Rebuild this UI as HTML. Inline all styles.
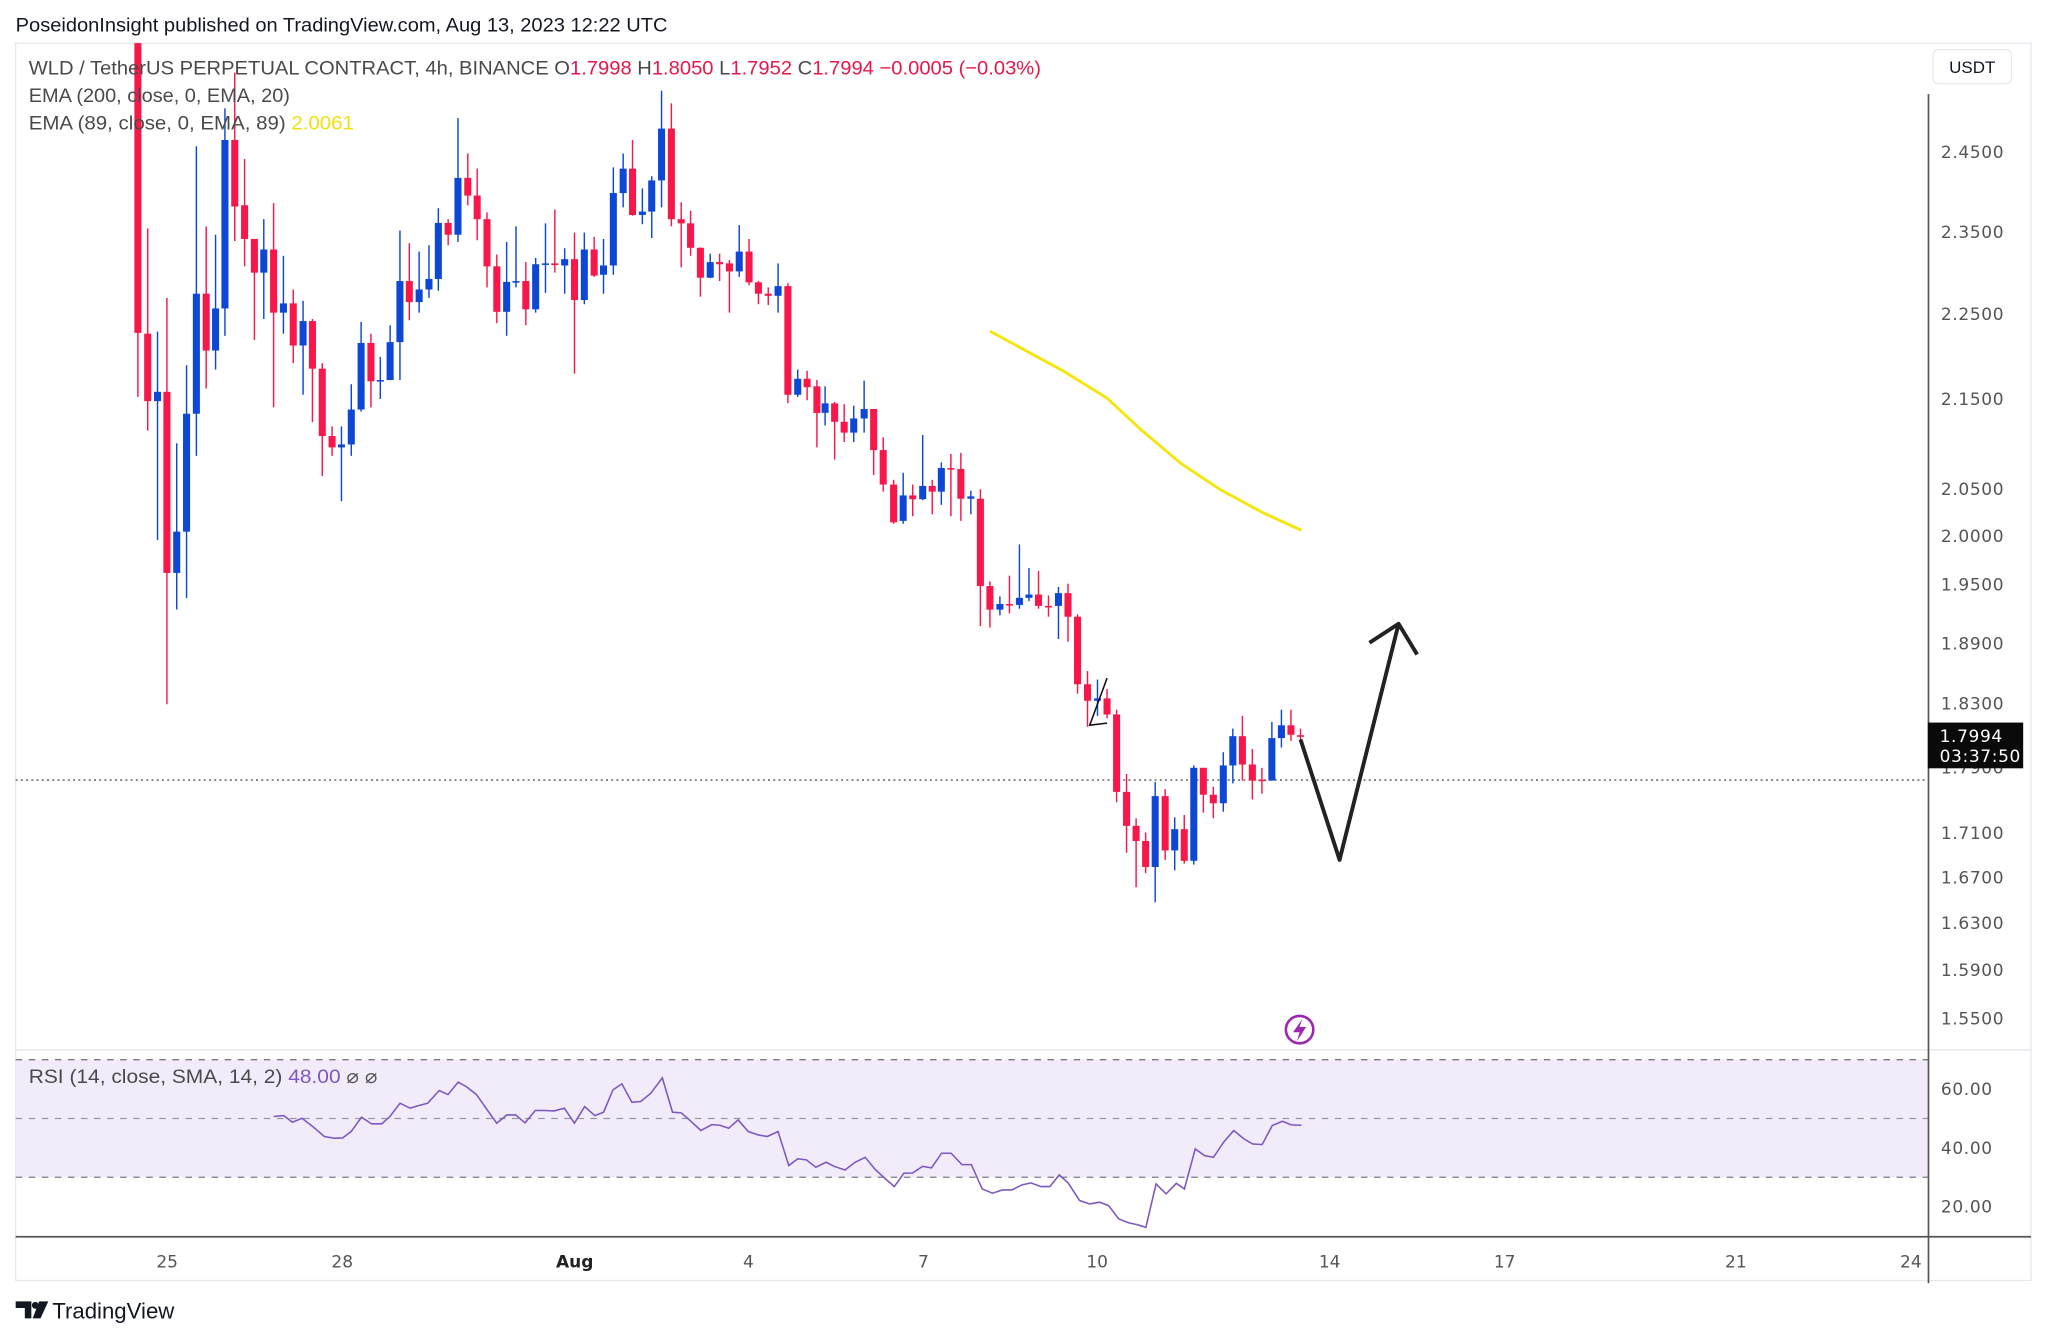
<!DOCTYPE html>
<html><head><meta charset="utf-8"><style>
html,body{margin:0;padding:0;background:#fff;}
svg{display:block;font-family:"Liberation Sans",sans-serif;}
</style></head><body>
<svg id="s" width="2048" height="1338" viewBox="0 0 1568 1024" preserveAspectRatio="none" xmlns="http://www.w3.org/2000/svg">
<rect width="1568" height="1024" fill="#fff"/>
<text x="12" y="24" font-size="15" fill="#131722" textLength="499" lengthAdjust="spacingAndGlyphs">PoseidonInsight published on TradingView.com, Aug 13, 2023 12:22 UTC</text>
<rect x="12" y="33" width="1543" height="947" fill="none" stroke="#e6e8ee" stroke-width="1"/>
<rect x="12" y="811" width="1464" height="90" fill="#f2ecfa"/>
<line x1="12" y1="811" x2="1476" y2="811" stroke="#787b86" stroke-dasharray="5 5"/>
<line x1="12" y1="856" x2="1476" y2="856" stroke="#9598a1" stroke-dasharray="5 5"/>
<line x1="12" y1="901" x2="1476" y2="901" stroke="#787b86" stroke-dasharray="5 5"/>
<line x1="12" y1="803.5" x2="1555" y2="803.5" stroke="#e0e3eb"/>
<line x1="12" y1="946.5" x2="1555" y2="946.5" stroke="#555" stroke-width="1.3"/>
<line x1="1476.5" y1="72" x2="1476.5" y2="982" stroke="#555" stroke-width="1.3"/>
<line x1="12" y1="597" x2="1476" y2="597" stroke="#555" stroke-dasharray="1.5 2.5" stroke-width="1"/>
<g id="candles"></g>
<polyline id="rsi" fill="none" stroke="#7e57c2" stroke-width="1.2"/>
<polyline id="ema" fill="none" stroke="#f5e50a" stroke-width="2.2" stroke-linejoin="round"/>
<polyline points="995.7,565.9 1025.6,658.1 1070.8,477.4" fill="none" stroke="#222" stroke-width="3" stroke-linejoin="round"/>
<polyline points="1048.5,491.9 1070.8,477.4 1085,500.9" fill="none" stroke="#222" stroke-width="3" stroke-linejoin="round"/>
<polyline points="847.6,519 834.3,555 847.6,553.4" fill="none" stroke="#111" stroke-width="1.2"/>
<text x="22" y="57" font-size="15" fill="#4a4a4a" textLength="775" lengthAdjust="spacingAndGlyphs">WLD / TetherUS PERPETUAL CONTRACT, 4h, BINANCE  O<tspan fill="#e8174a">1.7998</tspan>  H<tspan fill="#e8174a">1.8050</tspan>  L<tspan fill="#e8174a">1.7952</tspan>  C<tspan fill="#e8174a">1.7994</tspan>  <tspan fill="#e8174a">−0.0005 (−0.03%)</tspan></text>
<text x="22" y="78" font-size="15" fill="#4a4a4a" textLength="200" lengthAdjust="spacingAndGlyphs">EMA (200, close, 0, EMA, 20)</text>
<text x="22" y="99" font-size="15" fill="#4a4a4a" textLength="249" lengthAdjust="spacingAndGlyphs">EMA (89, close, 0, EMA, 89)  <tspan fill="#f0e010">2.0061</tspan></text>
<text x="22" y="829" font-size="15" fill="#4a4a4a" textLength="267" lengthAdjust="spacingAndGlyphs">RSI (14, close, SMA, 14, 2)  <tspan fill="#7e57c2">48.00</tspan>  <tspan fill="#555">⌀  ⌀</tspan></text>
<rect x="1480" y="38" width="60" height="26" rx="4" fill="#fff" stroke="#e6e8ee"/>
<text x="1510" y="56" font-size="13" fill="#131722" text-anchor="middle">USDT</text>
<g font-size="13" fill="#555" font-family="'DejaVu Sans',sans-serif" letter-spacing="0.5">
<text x="1486" y="121">2.4500</text><text x="1486" y="182">2.3500</text><text x="1486" y="245">2.2500</text>
<text x="1486" y="310">2.1500</text><text x="1486" y="379">2.0500</text><text x="1486" y="415">2.0000</text>
<text x="1486" y="452">1.9500</text><text x="1486" y="497">1.8900</text><text x="1486" y="543">1.8300</text>
<text x="1486" y="592">1.7900</text>
<text x="1486" y="642">1.7100</text><text x="1486" y="676">1.6700</text><text x="1486" y="711">1.6300</text>
<text x="1486" y="747">1.5900</text><text x="1486" y="784">1.5500</text>
<text x="1486" y="838">60.00</text><text x="1486" y="883">40.00</text><text x="1486" y="928">20.00</text>
</g>
<rect x="1476" y="553" width="73" height="35" fill="#0a0a0a"/>
<g font-size="13" fill="#fff" font-family="'DejaVu Sans',sans-serif" letter-spacing="0.5">
<text x="1485" y="568">1.7994</text><text x="1485" y="583">03:37:50</text></g>
<g font-size="13" fill="#555" text-anchor="middle" font-family="'DejaVu Sans',sans-serif">
<text x="128" y="970">25</text><text x="262" y="970">28</text><text x="440" y="970" fill="#222" font-weight="bold">Aug</text>
<text x="573" y="970">4</text><text x="707" y="970">7</text><text x="840" y="970">10</text>
<text x="1018" y="970">14</text><text x="1152" y="970">17</text><text x="1329" y="970">21</text><text x="1463" y="970">24</text></g>
<circle cx="995" cy="788" r="10.5" fill="#fff" stroke="#9c27b0" stroke-width="2"/>
<path d="M997,780 L990,790 L995,790 L993,797 L1000,786 L995,786 Z" fill="#9c27b0"/>
<path d="M12,996 H24 V1009 H19 V1001 H12 Z" fill="#131722"/>
<circle cx="27" cy="999" r="2.6" fill="#131722"/>
<path d="M30,996 H37 L31,1009 H25 Z" fill="#131722"/>
<text x="40" y="1009" font-size="17" fill="#131722">TradingView</text>
</svg>
<script>
(function(){
var NS="http://www.w3.org/2000/svg",g=document.getElementById("candles");
function add(x,t,b,h,l,c){
 var col=c=="R"?"#f7174a":"#0d47d6";
 var w=document.createElementNS(NS,"line");
 w.setAttribute("x1",x);w.setAttribute("x2",x);w.setAttribute("y1",h);w.setAttribute("y2",l);
 w.setAttribute("stroke",col);w.setAttribute("stroke-width","1.1");g.appendChild(w);
 var r=document.createElementNS(NS,"rect");
 r.setAttribute("x",x-2.7);r.setAttribute("width",5.4);r.setAttribute("y",t);r.setAttribute("height",Math.max(1.2,b-t));
 r.setAttribute("fill",col);g.appendChild(r);
}
var A=[[40,"R",-40,648,-40,800],[62,"R",650,810,400,880],[84,"B",788,810,645,1140],[105,"R",788,1218,565,1530],[127,"B",1120,1218,910,1305],[149,"B",840,1120,725,1278],[171,"B",555,840,205,940],[193,"R",555,690,395,780],[214,"B",590,690,415,735],[235,"B",190,590,115,655],[257,"R",190,348,30,430],[279,"R",345,425,235,490],[301,"R",425,505,425,665],[322,"B",450,505,378,615],[344,"R",450,600,340,825],[366,"B",578,600,465,650],[388,"R",578,678,545,720],[410,"B",620,678,572,795],[431,"R",620,733,615,860],[453,"R",733,893,720,988],[475,"R",893,920,870,940],[496,"B",913,920,870,1048],[518,"B",830,913,770,940],[540,"B",672,830,622,835],[562,"R",672,763,650,825],[583,"B",760,763,705,805],[605,"B",670,760,630,760],[627,"B",525,670,405,760],[648,"R",525,575,435,618],[670,"B",545,575,455,600],[692,"B",520,545,440,565],[713,"B",387,520,352,548],[735,"R",387,415,378,440],[757,"B",280,415,138,432],[779,"R",280,322,222,345],[800,"R",322,378,258,428],[822,"R",378,490,362,540],[844,"R",490,598,462,625],[866,"B",527,598,432,655],[887,"B",525,528,395,540],[909,"R",525,592,480,630],[931,"B",485,592,470,600],[953,"B",483,486,388,553],[974,"R",483,487,355,505],[996,"B",473,488,447,555],[1018,"R",473,570,410,745],[1040,"B",450,570,410,580],[1062,"R",450,512,420,515],[1083,"B",488,510,425,555],[1105,"B",316,488,255,510],[1127,"B",258,316,222,350],[1148,"R",258,368,190,370],[1170,"B",360,368,305,390],[1191,"B",286,360,276,423],[1213,"B",163,286,73,350],[1235,"R",163,378,103,395],[1257,"R",378,388,338,492],[1278,"R",388,446,358,465],[1300,"R",446,517,445,562],[1322,"B",480,517,460,518],[1343,"R",480,485,460,525],[1365,"R",483,502,475,600],[1387,"B",455,502,392,515],[1409,"R",455,528,425,535],[1430,"R",528,555,525,580],[1452,"R",555,560,540,582],[1474,"B",537,560,483,600],[1496,"R",537,795,530,815],[1518,"B",757,795,735,800],[1539,"R",757,777,738,808],[1561,"R",775,838,760,920]];
A.forEach(function(a){add(91.9+a[0]*0.3418,45.9+a[2]*0.3223,45.9+a[3]*0.3223,45.9+a[4]*0.3223,45.9+a[5]*0.3223,a[1]);});
var B=[[150,"B",473,493,437,520],[172,"R",473,512,470,592],[194,"R",512,535,475,555],[216,"B",505,535,478,555],[240,"B",485,505,425,535],[262,"R",485,572,485,625],[284,"R",572,645,545,660],[308,"R",645,725,635,728],[330,"B",668,722,620,728],[352,"R",668,676,645,712],[375,"B",648,676,540,678],[397,"R",648,660,635,708],[418,"B",610,660,598,688],[440,"R",610,612,580,712],[463,"R",612,675,578,722],[486,"B",670,675,658,708],[508,"R",675,860,655,945],[530,"R",860,910,850,948],[553,"B",898,910,882,922],[575,"R",898,900,838,918],[598,"B",885,900,772,908],[620,"B",878,885,822,892],[642,"R",878,902,828,908],[665,"R",902,905,880,925],[688,"B",875,902,862,972],[710,"R",875,925,855,978],[732,"R",925,1068,920,1088],[755,"R",1068,1103,1040,1158],[778,"B",1098,1103,1058,1135],[800,"R",1098,1132,1078,1140],[822,"R",1132,1296,1122,1318],[845,"R",1296,1368,1258,1425],[867,"R",1368,1400,1352,1498],[889,"R",1400,1455,1382,1468],[911,"B",1305,1455,1275,1530],[934,"R",1305,1420,1290,1440],[956,"B",1375,1420,1350,1462],[978,"R",1375,1442,1345,1448],[1000,"B",1245,1442,1240,1450],[1022,"R",1245,1302,1245,1340],[1045,"R",1302,1320,1285,1352],[1068,"B",1240,1320,1212,1338],[1090,"B",1178,1240,1162,1278],[1112,"R",1178,1238,1135,1272],[1135,"R",1238,1272,1205,1312],[1157,"R",1270,1272,1245,1300],[1180,"B",1182,1272,1148,1272],[1202,"B",1155,1182,1122,1202],[1224,"R",1155,1175,1122,1188],[1246,"R",1176,1178,1162,1188]];
B.forEach(function(a){add(581.9+a[0]*0.3321,137.8+a[2]*0.3613,137.8+a[3]*0.3613,137.8+a[4]*0.3613,137.8+a[5]*0.3613,a[1]);});
var E=[[530,320],[600,355],[700,405],[800,462],[880,530],[970,600],[1060,655],[1160,705],[1248,742]];
document.getElementById("ema").setAttribute("points",E.map(function(p){return (581.9+p[0]*0.3321).toFixed(1)+","+(137.8+p[1]*0.3613).toFixed(1);}).join(" "));
var R=[20,198,35,195,48,215,62,203,78,228,95,258,110,263,122,262,135,242,150,200,165,220,180,220,192,198,207,158,222,173,235,165,248,158,265,120,278,132,293,95,305,108,320,132,335,175,350,218,365,193,378,193,392,217,407,180,420,180,435,181,450,173,465,218,480,168,495,195,508,185,522,118,535,100,550,155,563,153,578,128,595,82,610,185,623,187,636,210,652,240,668,222,680,224,693,233,707,208,722,243,737,253,750,258,766,243,782,345,795,325,808,328,822,350,837,335,850,348,865,358,880,335,895,320,910,357,925,385,938,408,952,368,965,367,980,347,993,352,1008,308,1022,308,1038,342,1052,342,1068,415,1083,428,1098,418,1112,418,1127,403,1140,397,1155,408,1168,408,1182,373,1195,397,1212,450,1227,460,1242,455,1255,465,1270,505,1285,517,1297,522,1310,530,1325,400,1340,430,1355,398,1367,415,1383,295,1397,315,1410,320,1425,275,1440,240,1455,265,1468,280,1482,282,1497,225,1512,212,1525,223,1540,224];
var pts=[];for(var i=0;i<R.length;i+=2)pts.push((199.1+R[i]*0.5177).toFixed(1)+","+(804+R[i+1]*0.2552).toFixed(1));
document.getElementById("rsi").setAttribute("points",pts.join(" "));
})();
</script>
</body></html>
